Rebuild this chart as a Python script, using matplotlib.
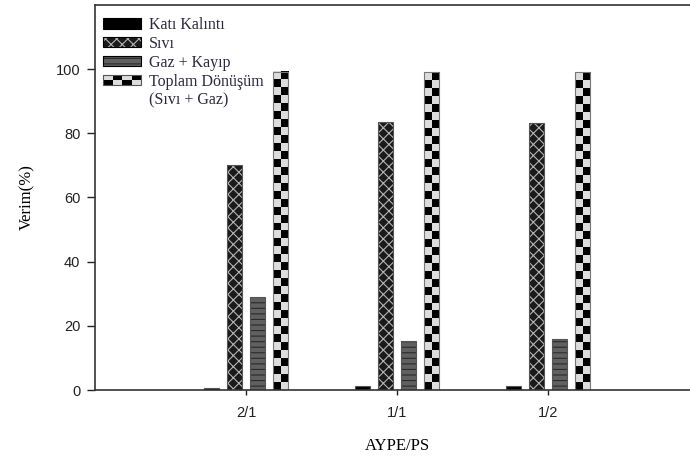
import numpy as np
import matplotlib
matplotlib.use("Agg")
import matplotlib.pyplot as plt
from matplotlib.patches import Patch, Rectangle
from matplotlib.colors import ListedColormap
from matplotlib.legend_handler import HandlerBase, HandlerTuple

# veriler
gruplar = ["2/1", "1/1", "1/2"]
kati_kalinti = [0.7, 1.2, 1.1]
sivi = [70.1, 83.6, 83.1]
gaz_kayip = [29.1, 15.4, 16.0]
toplam = [99.2, 99.1, 99.1]

seri_adlari = ["Katı Kalıntı", "Sıvı", "Gaz + Kayıp", "Toplam Dönüşüm"]
ek_satir = "(Sıvı + Gaz)"

plt.rcParams['hatch.linewidth'] = 0.8
serif = ['Liberation Serif', 'DejaVu Serif']
sans = ['Liberation Sans', 'DejaVu Sans']

fig = plt.figure(figsize=(6.9, 4.59), dpi=100)
ax = fig.add_axes([95 / 690, 69 / 459, 604 / 690, 385 / 459])

x = np.arange(1, len(gruplar) + 1)
genislik = 0.10
aralik = 0.152
kenar = '#555555'

# Katı kalıntı - düz siyah
ax.bar(x - 1.5 * aralik, kati_kalinti, genislik, color='black', edgecolor=kenar, lw=0.8)

# Sıvı - siyah zemin, açık çapraz desen
ax.bar(x - 0.5 * aralik, sivi, genislik, facecolor='#1a1a1a', edgecolor='#b4b4b4', hatch='xxx', lw=0)
ax.bar(x - 0.5 * aralik, sivi, genislik, fill=False, edgecolor=kenar, lw=0.8)

# Gaz + kayıp - gri zemin, koyu desen
ax.bar(x + 0.5 * aralik, gaz_kayip, genislik, facecolor='#606060', edgecolor='#2a2a2a', hatch='---', lw=0)
ax.bar(x + 0.5 * aralik, gaz_kayip, genislik, fill=False, edgecolor=kenar, lw=0.8)

# Toplam - dama deseni
dama_cmap = ListedColormap(['#dcdcdc', 'black'])
toplam_bar = ax.bar(x + 1.5 * aralik, toplam, genislik, facecolor='#dcdcdc', lw=0)
for r in toplam_bar:
    x0, w, h = r.get_x(), r.get_width(), r.get_height()
    nr = max(1, int(round(h / 2.5)))
    dama = np.indices((nr, 2)).sum(axis=0) % 2
    ax.imshow(dama, cmap=dama_cmap, extent=(x0, x0 + w, 0, h), origin='upper',
              aspect='auto', interpolation='nearest', zorder=r.get_zorder())
ax.bar(x + 1.5 * aralik, toplam, genislik, fill=False, edgecolor='#777777', lw=0.8, zorder=2)

ax.set_xlim(0, 4)
ax.set_ylim(0, 120)
ax.set_xticks(x)
ax.set_xticklabels(gruplar)
ax.set_yticks(np.arange(0, 101, 20))

for s in ['top', 'left', 'bottom', 'right']:
    ax.spines[s].set_color('#333333')
    ax.spines[s].set_linewidth(1.2)

ax.tick_params(axis='y', direction='out', length=5.5, width=1.0, pad=5, colors='#222222', labelsize=10.5)
ax.tick_params(axis='x', direction='out', length=3.6, width=1.0, pad=8, colors='#222222', labelsize=10.5)
for lab in ax.get_xticklabels() + ax.get_yticklabels():
    lab.set_family(sans)

ax.set_xlabel("AYPE/PS", family=serif, fontsize=12, labelpad=13)
ax.set_ylabel("Verim(%)", family=serif, fontsize=12, labelpad=15)


class DamaHandler(HandlerBase):
    def create_artists(self, legend, orig_handle, xdescent, ydescent, width, height, fontsize, trans):
        parcalar = []
        nc, nr = 4, 2
        cw, ch = width / nc, height / nr
        for i in range(nr):
            for j in range(nc):
                fc = 'black' if (i + j) % 2 == 0 else '#dcdcdc'
                parcalar.append(Rectangle((-xdescent + j * cw, -ydescent + i * ch), cw, ch,
                                          facecolor=fc, edgecolor='none', transform=trans))
        parcalar.append(Rectangle((-xdescent, -ydescent), width, height, fill=False,
                                  edgecolor='#555555', lw=0.8, transform=trans))
        return parcalar


class DamaKey:
    pass


cerceve = Patch(fill=False, edgecolor='black', lw=0.8)
tutamaklar = [
    Patch(facecolor='black', edgecolor='black', lw=0.8),
    (Patch(facecolor='#1a1a1a', edgecolor='#b4b4b4', hatch='xxx', lw=0), cerceve),
    (Patch(facecolor='#606060', edgecolor='#2a2a2a', hatch='---', lw=0), cerceve),
    DamaKey(),
    Patch(visible=False),
]
etiketler = seri_adlari + [ek_satir]

leg = ax.legend(tutamaklar, etiketler, loc='upper left', bbox_to_anchor=(103 / 690, 1 - 17 / 459),
                bbox_transform=fig.transFigure, frameon=False, borderpad=0, borderaxespad=0,
                handlelength=2.4, handleheight=0.62, handletextpad=0.45, labelspacing=0.18,
                prop={'family': serif, 'size': 11.5},
                handler_map={DamaKey: DamaHandler(), tuple: HandlerTuple(ndivide=1)})
for t in leg.get_texts():
    t.set_color('#2a2a3a')

fig.savefig("out.png", dpi=100)
